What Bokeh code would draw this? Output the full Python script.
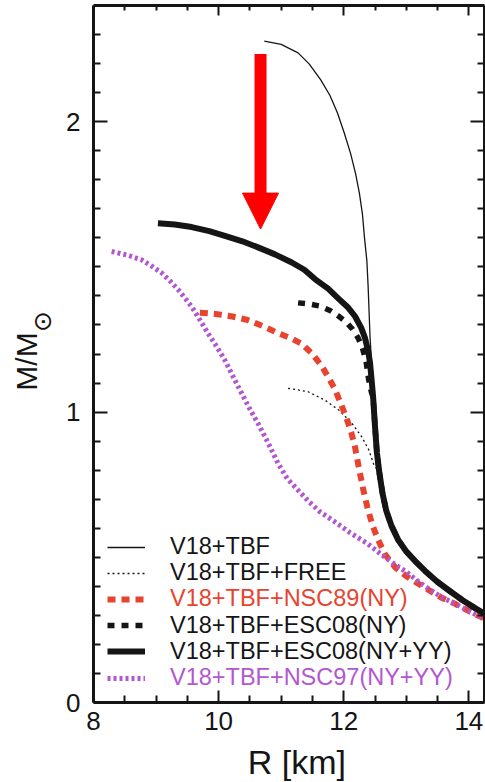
import math

from bokeh.core.properties import value
from bokeh.embed import file_html
from bokeh.layouts import column, row
from bokeh.models import (Arrow, FixedTicker, Label, Legend, LegendItem,
                          LinearAxis, NormalHead, Range1d)
from bokeh.plotting import figure
from bokeh.resources import INLINE

# ---- mass-radius relations (R in km, M in solar masses) ----

# low-mass nucleonic branch shared by every sequence
TAIL_R = [12.47, 12.50, 12.53, 12.57, 12.62, 12.68, 12.76, 12.87, 13.00,
          13.15, 13.30, 13.50, 13.70, 13.90, 14.10, 14.30]
TAIL_M = [1.05, 0.95, 0.86, 0.79, 0.72, 0.66, 0.61, 0.56, 0.52,
          0.485, 0.453, 0.415, 0.383, 0.352, 0.325, 0.30]

# V18+TBF (nucleons only)
V18_R = [10.73, 11.00, 11.27, 11.45, 11.63, 11.78, 11.90, 12.01, 12.11,
         12.19, 12.25, 12.30, 12.33, 12.37, 12.39, 12.42, 12.45]
V18_M = [2.277, 2.266, 2.237, 2.198, 2.145, 2.09, 2.03, 1.96, 1.89,
         1.82, 1.754, 1.68, 1.604, 1.52, 1.432, 1.26, 1.15]

# V18+TBF+FREE hyperons
FREE_R = [11.11, 11.43, 11.70, 11.92, 12.13, 12.29, 12.40, 12.48]
FREE_M = [1.082, 1.07, 1.041, 1.007, 0.962, 0.914, 0.87, 0.82]

# V18+TBF+NSC89(NY)
NSC89_R = [9.70, 9.95, 10.20, 10.45, 10.72, 10.95, 11.15, 11.33, 11.50,
           11.65, 11.76, 11.86, 11.97, 12.05, 12.12, 12.18, 12.24, 12.31,
           12.38, 12.46, 12.55, 12.66, 12.82, 13.00, 13.20, 13.40, 13.57,
           13.75, 13.90, 14.08, 14.30]
NSC89_M = [1.342, 1.338, 1.33, 1.318, 1.295, 1.272, 1.255, 1.235, 1.20,
           1.158, 1.118, 1.078, 1.02, 0.975, 0.93, 0.88, 0.81, 0.735,
           0.67, 0.61, 0.56, 0.51, 0.466, 0.435, 0.408, 0.382, 0.36,
           0.343, 0.326, 0.306, 0.285]

# V18+TBF+ESC08(NY)
ESC08_NY_R = [11.27, 11.45, 11.62, 11.78, 11.92, 12.04, 12.14, 12.23,
              12.30, 12.36, 12.40, 12.44]
ESC08_NY_M = [1.376, 1.372, 1.365, 1.35, 1.33, 1.31, 1.285, 1.255,
              1.22, 1.17, 1.11, 1.07]

# V18+TBF+ESC08(NY+YY)
ESC08_YY_R = [9.03, 9.30, 9.57, 9.85, 10.10, 10.38, 10.63, 10.90, 11.17,
              11.37, 11.54, 11.75, 11.92, 12.07, 12.18, 12.28, 12.34,
              12.39, 12.42, 12.45]
ESC08_YY_M = [1.650, 1.646, 1.637, 1.623, 1.607, 1.588, 1.567, 1.543,
              1.515, 1.49, 1.458, 1.425, 1.39, 1.36, 1.33, 1.29, 1.255,
              1.21, 1.17, 1.10]

# V18+TBF+NSC97(NY+YY)
NSC97_R = [8.29, 8.55, 8.77, 8.95, 9.09, 9.23, 9.36, 9.47, 9.57, 9.70,
           9.83, 9.97, 10.10, 10.26, 10.37, 10.50, 10.63, 10.80, 10.95,
           11.10, 11.27, 11.45, 11.63, 11.84, 12.10, 12.38, 12.60, 12.80,
           13.00, 13.20, 13.40, 13.57, 13.75, 13.90, 14.08, 14.30]
NSC97_M = [1.553, 1.54, 1.524, 1.50, 1.479, 1.45, 1.42, 1.39, 1.363,
           1.318, 1.271, 1.225, 1.179, 1.11, 1.064, 1.01, 0.961, 0.89,
           0.823, 0.77, 0.731, 0.69, 0.655, 0.625, 0.585, 0.547, 0.51,
           0.478, 0.45, 0.415, 0.385, 0.362, 0.343, 0.326, 0.306, 0.285]

X_MAJOR = [8, 10, 12, 14]
X_MINOR = [8.5, 9, 9.5, 10.5, 11, 11.5, 12.5, 13, 13.5, 14.5]
Y_MAJOR = [0, 1, 2]
Y_MINOR = [0.1, 0.2, 0.3, 0.4, 0.5, 0.6, 0.7, 0.8, 0.9, 1.1, 1.2, 1.3,
           1.4, 1.5, 1.6, 1.7, 1.8, 1.9, 2.1, 2.2, 2.3]

# arrow marking the softening by hyperons
ARROW_R = 10.67
ARROW_M_FROM = 2.233
ARROW_M_TO = 1.630

FONT = "Liberation Sans, DejaVu Sans, sans-serif"
INK = "#151515"
RED = "#e8432f"
PURPLE = "#b357d1"

# page layout (px): a strip for the vertical title, the plot, and a strip
# underneath it for the horizontal title
W, H = 485, 782
LEFT_W = 60
BOTTOM_H = 40
PLOT_W = W - LEFT_W
PLOT_H = H - BOTTOM_H


def strip(width, height):
    f = figure(width=width, height=height, title=None,
               x_range=Range1d(0, width), y_range=Range1d(0, height),
               x_axis_type=None, y_axis_type=None,
               output_backend="svg", toolbar_location=None,
               min_border=0, outline_line_color=None,
               background_fill_color="white", border_fill_color="white")
    f.xgrid.visible = False
    f.ygrid.visible = False
    return f


p = figure(width=PLOT_W, height=PLOT_H, title=None,
           x_range=Range1d(8, 14.25), y_range=Range1d(0, 2.40),
           output_backend="svg", toolbar_location=None,
           min_border_left=33, min_border_right=1,
           min_border_top=5, min_border_bottom=BOTTOM_H,
           outline_line_color=None, background_fill_color="white",
           border_fill_color="white")
p.xgrid.visible = False
p.ygrid.visible = False


def style_axis(ax, major_len, minor_len):
    ax.axis_line_width = 3
    ax.axis_line_color = INK
    ax.major_tick_line_width = 2
    ax.minor_tick_line_width = 2
    ax.major_tick_line_color = INK
    ax.minor_tick_line_color = INK
    ax.major_tick_in = major_len
    ax.major_tick_out = 0
    ax.minor_tick_in = minor_len
    ax.minor_tick_out = 0
    ax.major_label_text_font = FONT
    ax.major_label_text_font_size = "26px"
    ax.major_label_text_color = INK


def ticks_only(ax, ticks):
    # mirrored frame side: tick marks without numbers
    ax.major_label_overrides = {t: "" for t in ticks}
    ax.major_label_text_font_size = "1px"
    ax.major_label_standoff = 0


xticker = FixedTicker(ticks=X_MAJOR, minor_ticks=X_MINOR)
yticker = FixedTicker(ticks=Y_MAJOR, minor_ticks=Y_MINOR)

xax = p.xaxis[0]
xax.ticker = xticker
style_axis(xax, 12, 7)
xax.major_label_standoff = 9

yax = p.yaxis[0]
yax.ticker = yticker
style_axis(yax, 14, 7)
yax.major_label_standoff = 13

top = LinearAxis(ticker=xticker)
style_axis(top, 10, 5)
ticks_only(top, X_MAJOR)
p.add_layout(top, "above")

right = LinearAxis(ticker=yticker)
style_axis(right, 14, 7)
ticks_only(right, Y_MAJOR)
p.add_layout(right, "right")

# curves
kw = dict(line_cap="butt", line_join="round")
r_v18 = p.line(V18_R + TAIL_R, V18_M + TAIL_M, line_color=INK,
               line_width=1.3, **kw)
r_free = p.line(FREE_R + TAIL_R[3:], FREE_M + TAIL_M[3:], line_color=INK,
                line_width=1.3, line_dash="2 3", **kw)
r_nsc89 = p.line(NSC89_R, NSC89_M, line_color=RED, line_width=6,
                 line_dash="8 6", **kw)
r_nsc97 = p.line(NSC97_R, NSC97_M, line_color=PURPLE, line_width=5,
                 line_dash="3 3", **kw)
r_esc_ny = p.line(ESC08_NY_R + TAIL_R, ESC08_NY_M + TAIL_M, line_color=INK,
                  line_width=5.5, line_dash="7 7", **kw)
r_esc_yy = p.line(ESC08_YY_R + TAIL_R, ESC08_YY_M + TAIL_M, line_color=INK,
                  line_width=6, **kw)

# legend: one single-entry legend per row so each label keeps its colour
entries = [
    ("V18+TBF", r_v18, INK),
    ("V18+TBF+FREE", r_free, INK),
    ("V18+TBF+NSC89(NY)", r_nsc89, RED),
    ("V18+TBF+ESC08(NY)", r_esc_ny, INK),
    ("V18+TBF+ESC08(NY+YY)", r_esc_yy, INK),
    ("V18+TBF+NSC97(NY+YY)", r_nsc97, PURPLE),
]
row_h = 26.2
for i, (label, rend, color) in enumerate(entries):
    centre = 24 + row_h * (len(entries) - 1 - i)
    leg = Legend(items=[LegendItem(label=value(label), renderers=[rend])],
                 location=(14, centre - 13),
                 glyph_width=38, glyph_height=26, label_height=26,
                 label_standoff=25, padding=0, margin=0, spacing=0,
                 label_text_font=FONT, label_text_font_size="23.5px",
                 label_text_color=color, border_line_color=None,
                 background_fill_alpha=0)
    p.add_layout(leg)

# red arrow
p.add_layout(Arrow(x_start=ARROW_R, y_start=ARROW_M_FROM,
                   x_end=ARROW_R, y_end=ARROW_M_TO,
                   line_color="#ff0000", line_width=12,
                   end=NormalHead(size=36, fill_color="#ff0000",
                                  line_color="#ff0000", line_width=1)))

# vertical title M/M_sun (strip coordinates are pixels, origin bottom-left)
ylab = strip(LEFT_W, H)
ylab.add_layout(Label(x=26, y=421, text="M/M", angle=math.pi / 2,
                      text_align="center", text_baseline="alphabetic",
                      text_font=FONT, text_font_size="30px",
                      text_color=INK))
ylab.add_layout(Label(x=41.5, y=461, text="\u2299", angle=math.pi / 2,
                      text_align="center", text_baseline="middle",
                      text_font="DejaVu Sans", text_font_size="25px",
                      text_color=INK))

# horizontal title under the plot
xlab = strip(PLOT_W, BOTTOM_H)
xlab.add_layout(Label(x=221, y=21, text="R [km]",
                      text_align="center", text_baseline="alphabetic",
                      text_font=FONT, text_font_size="34px",
                      text_color=INK))

page = row(ylab, column(p, xlab, spacing=0), spacing=0)

open("out.html", "w").write(file_html(page, INLINE))
